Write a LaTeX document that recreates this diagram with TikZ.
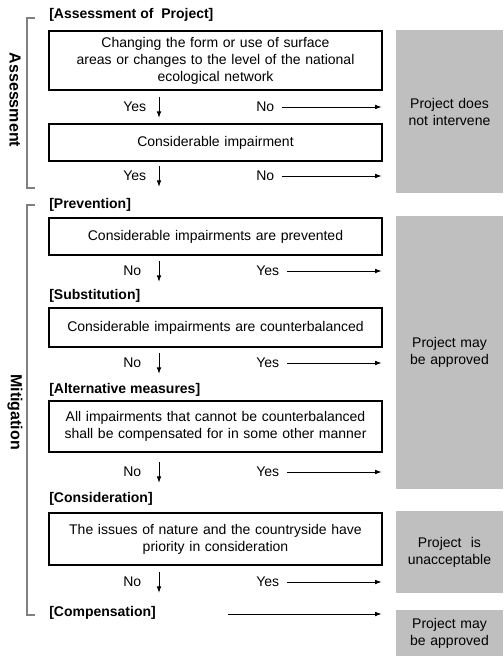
\documentclass[tikz,border=0pt]{standalone}
\usepackage{fontspec}
\setmainfont{Liberation Sans}
\usetikzlibrary{arrows.meta}

\definecolor{resgray}{HTML}{BFBFBF}
\definecolor{bracketgray}{HTML}{808080}
\newcommand{\fsize}{\fontsize{10.5}{12.75}\selectfont}

\tikzset{
  box/.style={draw, line width=1.4pt, minimum width=249.75pt, text width=245pt,
    align=center, inner sep=0pt, font=\fsize},
  result/.style={fill=resgray, minimum width=80.25pt, text width=78pt,
    align=center, inner sep=0pt, font=\fsize},
  stage/.style={anchor=west, inner sep=0pt, font=\fsize\bfseries},
  answer/.style={anchor=west, inner sep=0pt, font=\fsize},
  flow/.style={-{Latex[length=5pt,width=3.5pt]}, line width=0.7pt},
  bracket/.style={draw=bracketgray, line width=0.8pt},
  part/.style={rotate=-90, inner sep=0pt, font=\large\bfseries}
}

\begin{document}
\begin{tikzpicture}[x=0.75pt, y=-0.75pt]

    % --- Frame (pixel grid, y downwards) ---
    \useasboundingbox (0,0) rectangle (503,656);

    % --- Side brackets ---
    \draw[bracket] (35,18) -- (27,18) -- (27,188) -- (35,188);
    \draw[bracket] (35,205) -- (27,205) -- (27,615) -- (35,615);
    \node[part] (assess) at (15,100) {Assessment};
    \node[part] (mitig) at (15,412) {Mitigation};

    % --- Stage titles ---
    \node[stage] (t0) at (49,15) {[Assessment of\ \ Project]};
    \node[stage] (t1) at (49,205) {[Prevention]};
    \node[stage] (t2) at (49,296) {[Substitution]};
    \node[stage] (t3) at (49,390) {[Alternative measures]};
    \node[stage] (t4) at (49,499) {[Consideration]};
    \node[stage] (t5) at (49,613) {[Compensation]};

    % --- Question boxes ---
    \node[box, minimum height=44.25pt] (b1) at (215.5,60.5)
      {Changing the form or use of surface\\ areas or changes to the level of the national\\ ecological network};
    \node[box, minimum height=27.75pt] (b2) at (215.5,142.5) {Considerable impairment};
    \node[box, minimum height=27.75pt] (b3) at (215.5,236.5) {Considerable impairments are prevented};
    \node[box, minimum height=29.25pt] (b4) at (215.5,327.5) {Considerable impairments are counterbalanced};
    \node[box, minimum height=38.25pt] (b5) at (215.5,426.5)
      {All impairments that cannot be counterbalanced\\ shall be compensated for in some other manner};
    \node[box, minimum height=39pt] (b6) at (215.5,539)
      {The issues of nature and the countryside have\\ priority in consideration};

    % --- Outcome boxes (grey) ---
    \node[result, minimum height=122.25pt] (g1) at (449.5,111.5) {Project does\\ not intervene};
    \node[result, minimum height=204.75pt] (g2) at (449.5,352.5) {Project may\\ be approved};
    \node[result, minimum height=61.5pt] (g3) at (449.5,552) {Project\ \ is\\ unacceptable};
    \node[result, minimum height=34.5pt] (g4) at (449.5,633) {Project may\\ be approved};

    % --- Answers going down ---
    \node[answer] (down1) at (123,107) {Yes};
    \node[answer] (down2) at (123,176) {Yes};
    \node[answer] (down3) at (123,271) {No};
    \node[answer] (down4) at (123,363) {No};
    \node[answer] (down5) at (123,472) {No};
    \node[answer] (down6) at (123,582) {No};
    \foreach \r/\n in {107/1, 176/2, 271/3, 363/4, 472/5, 582/6} {
      \coordinate (d\n) at (159,\r-10);
      \draw[flow] (d\n) -- ++(0,21);
    }

    % --- Answers going right ---
    \node[answer] (side1) at (256,107) {No};
    \node[answer] (side2) at (256,176) {No};
    \node[answer] (side3) at (256,271) {Yes};
    \node[answer] (side4) at (256,363) {Yes};
    \node[answer] (side5) at (256,472) {Yes};
    \node[answer] (side6) at (256,582) {Yes};
    \draw[flow, shorten <=6pt, shorten >=10.5pt] (side1.east) -- (side1.east -| g1.west);
    \draw[flow, shorten <=6pt, shorten >=10.5pt] (side2.east) -- (side2.east -| g1.west);
    \draw[flow, shorten <=6pt, shorten >=10.5pt] (side3.east) -- (side3.east -| g2.west);
    \draw[flow, shorten <=6pt, shorten >=10.5pt] (side4.east) -- (side4.east -| g2.west);
    \draw[flow, shorten <=6pt, shorten >=10.5pt] (side5.east) -- (side5.east -| g2.west);
    \draw[flow, shorten <=6pt, shorten >=10.5pt] (side6.east) -- (side6.east -| g3.west);

    % --- Compensation leads straight on ---
    \coordinate (c0) at (228,614);
    \draw[flow, shorten >=10.5pt] (c0) -- (c0 -| g4.west);

\end{tikzpicture}
\end{document}
